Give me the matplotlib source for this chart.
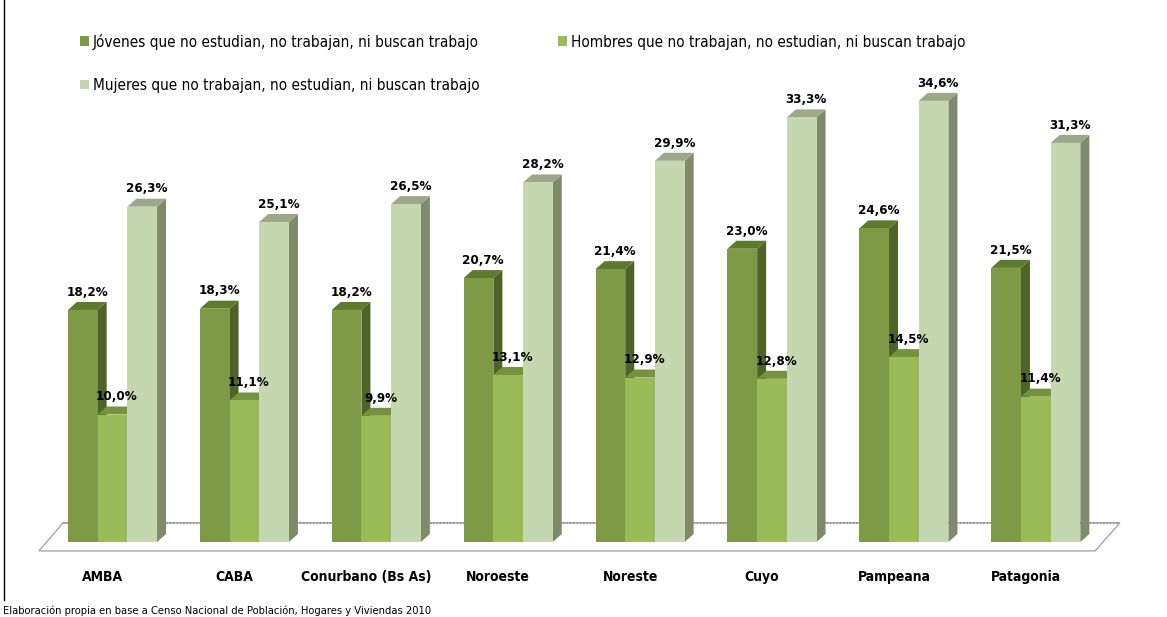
import matplotlib
matplotlib.use("Agg")
import matplotlib.pyplot as plt
from matplotlib.patches import Polygon
from matplotlib import font_manager
from matplotlib.font_manager import FontProperties
import numpy as np
import os

categories = ["AMBA", "CABA", "Conurbano (Bs As)", "Noroeste", "Noreste", "Cuyo", "Pampeana", "Patagonia"]
jovenes = [18.2, 18.3, 18.2, 20.7, 21.4, 23.0, 24.6, 21.5]
hombres = [10.0, 11.1, 9.9, 13.1, 12.9, 12.8, 14.5, 11.4]
mujeres = [26.3, 25.1, 26.5, 28.2, 29.9, 33.3, 34.6, 31.3]
series_names = ["Jóvenes que no estudian, no trabajan, ni buscan trabajo",
                "Hombres que no trabajan, no estudian, ni buscan trabajo",
                "Mujeres que no trabajan, no estudian, ni buscan trabajo"]
source = "Elaboración propia en base a Censo Nacional de Población, Hogares y Viviendas 2010"

reg_file = None
bold_file = None
for f in font_manager.fontManager.ttflist:
    base = os.path.basename(f.fname)
    if base == "DejaVuSansCondensed.ttf":
        reg_file = f.fname
    if base == "DejaVuSansCondensed-Bold.ttf":
        bold_file = f.fname
if reg_file is None or bold_file is None:
    for root in ["/usr/share/fonts", "/usr/local/share/fonts"]:
        for dp, dn, fn in os.walk(root):
            for n in fn:
                if n == "DejaVuSansCondensed.ttf" and reg_file is None:
                    reg_file = os.path.join(dp, n)
                if n == "DejaVuSansCondensed-Bold.ttf" and bold_file is None:
                    bold_file = os.path.join(dp, n)

condensed = reg_file is not None and bold_file is not None


def fp(size, bold=False):
    if condensed:
        return FontProperties(fname=bold_file if bold else reg_file, size=size)
    return FontProperties(family="DejaVu Sans", weight="bold" if bold else "normal",
                          size=size * 0.85)


W, H = 1167, 617
fig = plt.figure(figsize=(W / 100, H / 100), dpi=100)
fig.patch.set_facecolor("white")

px_per_cat = 131.9
x0_px = 112.5
base_px = 542.0
px_per_unit = 12.75
xlim = (-0.6, 7.7)
ylim = (-1.5, 40.0)
left_px = x0_px + xlim[0] * px_per_cat
right_px = x0_px + xlim[1] * px_per_cat
top_px = base_px - ylim[1] * px_per_unit
bot_px = base_px - ylim[0] * px_per_unit
ax = fig.add_axes([left_px / W, 1 - bot_px / H, (right_px - left_px) / W, (bot_px - top_px) / H])
ax.set_xlim(*xlim)
ax.set_ylim(*ylim)
ax.axis("off")

dx = 9 / px_per_cat
dy = 8 / px_per_unit
bw = 29.7 / px_per_cat

floor = Polygon([(-0.557, -0.7), (7.449, -0.7), (7.638, 1.5), (-0.375, 1.5)], closed=True,
                facecolor="white", edgecolor="#A6A6A6", linewidth=1.0, zorder=1, clip_on=False)
ax.add_patch(floor)
ax.plot([-0.375, 7.638], [1.5, 1.5], color="#8C8C8C", linewidth=1.2, linestyle=(0, (1, 1)),
        zorder=1.1, clip_on=False)

front_cols = ["#7E9A47", "#9BBB59", "#C6D6AE"]
top_cols = ["#5E7A2E", "#76923C", "#9DA889"]
side_cols = ["#4F6328", "#6C8735", "#7F8A6A"]
offsets = [-bw, 0.0, bw]
data = [jovenes, hombres, mujeres]
x = np.arange(len(categories))

handles = []
for s in range(3):
    vals = data[s]
    xc = x + offsets[s]
    z = 2 + s
    for i, v in enumerate(vals):
        xl = xc[i] - bw / 2
        xr = xc[i] + bw / 2
        side = Polygon([(xr, 0), (xr + dx, dy), (xr + dx, v + dy), (xr, v)], closed=True,
                       facecolor=side_cols[s], edgecolor="none", zorder=z)
        top = Polygon([(xl, v), (xl + dx, v + dy), (xr + dx, v + dy), (xr, v)], closed=True,
                      facecolor=top_cols[s], edgecolor="none", zorder=z)
        ax.add_patch(side)
        ax.add_patch(top)
        ax.text(xc[i] + dx / 2, v + dy + 0.25, f"{v:.1f}".replace(".", ",") + "%",
                ha="center", va="bottom", fontproperties=fp(9.5, True),
                color="black", zorder=10)
    b = ax.bar(xc, vals, width=bw, color=front_cols[s], edgecolor="none", zorder=z + 0.5,
               label=series_names[s])
    handles.append(b)

for i, c in enumerate(categories):
    ax.text(i - 0.075, -2.75, c, ha="center", va="center", fontproperties=fp(10, True),
            color="black", clip_on=False)

leg = fig.legend([handles[0], handles[2], handles[1]],
                 [series_names[0], series_names[2], series_names[1]],
                 ncol=2, loc="upper left", bbox_to_anchor=(69 / W, 1 - 23 / H),
                 frameon=False, handlelength=0.6, handleheight=0.6, handletextpad=0.25,
                 columnspacing=5.15, labelspacing=1.85, borderpad=0.2,
                 prop=fp(11))

fig.text(3 / W, 1 - 606 / H, source, ha="left", va="top", fontproperties=fp(8), color="black")

fig.add_artist(plt.Line2D([3.5 / W, 3.5 / W], [1 - 600 / H, 1.0], color="black", linewidth=1.0,
                          transform=fig.transFigure))

fig.savefig("out.png", dpi=100, facecolor="white")
